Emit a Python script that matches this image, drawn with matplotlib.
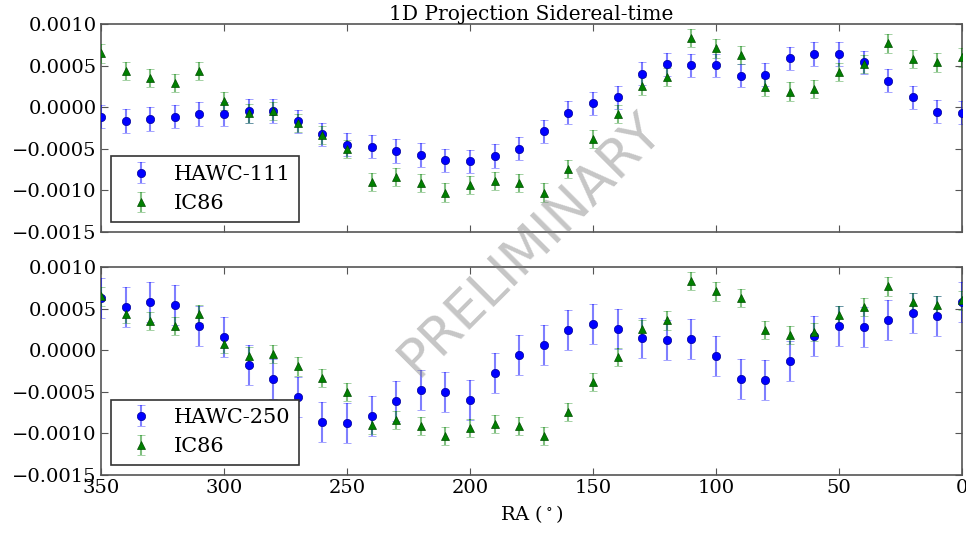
import matplotlib
matplotlib.use("Agg")
import matplotlib.pyplot as plt
import numpy as np

plt.rcParams['font.family'] = ['DejaVu Serif']
plt.rcParams['mathtext.fontset'] = 'dejavuserif'

# RA bins (degrees)
ra = [0, 10, 20, 30, 40, 50, 60, 70, 80, 90, 100, 110, 120, 130, 140, 150, 160, 170,
      180, 190, 200, 210, 220, 230, 240, 250, 260, 270, 280, 290, 300, 310, 320, 330, 340, 350]

hawc111 = [-0.000066, -0.000054, 0.000119, 0.000319, 0.000539, 0.000639, 0.000639, 0.000587,
           0.000391, 0.000379, 0.000503, 0.000503, 0.000515, 0.000403, 0.000119, 0.000047,
           -0.000066, -0.000290, -0.000498, -0.000587, -0.000650, -0.000639, -0.000575,
           -0.000526, -0.000474, -0.000450, -0.000326, -0.000170, -0.000046, -0.000046,
           -0.000082, -0.000082, -0.000114, -0.000142, -0.000166, -0.000114]
hawc111_err = [0.00014] * 36

ic86 = [0.000599, 0.000539, 0.000579, 0.000767, 0.000519, 0.000419, 0.000219, 0.000187,
        0.000247, 0.000627, 0.000707, 0.000835, 0.000359, 0.000259, -0.000082, -0.000386,
        -0.000739, -0.001027, -0.000907, -0.000887, -0.000935, -0.001027, -0.000915,
        -0.000835, -0.000895, -0.000502, -0.000334, -0.000194, -0.000046, -0.000074,
        0.000075, 0.000435, 0.000287, 0.000355, 0.000435, 0.000647]
ic86_err = [0.00011] * 36

hawc250 = [0.000579, 0.000407, 0.000443, 0.000359, 0.000279, 0.000291, 0.000171, -0.000126,
           -0.000362, -0.000350, -0.000066, 0.000135, 0.000119, 0.000147, 0.000255, 0.000319,
           0.000246, 0.000066, -0.000054, -0.000278, -0.000602, -0.000502, -0.000474,
           -0.000610, -0.000787, -0.000871, -0.000859, -0.000562, -0.000350, -0.000178,
           0.000155, 0.000291, 0.000539, 0.000575, 0.000515, 0.000627]
hawc250_err = [0.00024] * 36

yticks = [-0.0015, -0.0010, -0.0005, 0.0000, 0.0005, 0.0010]
ytick_labels = ["\u22120.0015", "\u22120.0010", "\u22120.0005", "0.0000", "0.0005", "0.0010"]
xticks = [350, 300, 250, 200, 150, 100, 50, 0]

fig = plt.figure(figsize=(9.66, 5.36), dpi=100)
ax1 = fig.add_axes([0.1046, 0.5672, 0.8913, 0.3880])
ax2 = fig.add_axes([0.1046, 0.1138, 0.8913, 0.3880], sharex=ax1)

blue = (0, 0, 1)
green = (0, 0.5, 0)

def draw(ax, hv, he, hlabel):
    ax.errorbar(ra, hv, yerr=he, fmt='o', color=blue, ecolor=(0, 0, 1, 0.5),
                markersize=6, capsize=3, elinewidth=1.5, capthick=1.2,
                markeredgecolor=(0, 0, 0.6), markeredgewidth=0.5, label=hlabel, zorder=3)
    ax.errorbar(ra, ic86, yerr=ic86_err, fmt='^', color=green, ecolor=(0, 0.5, 0, 0.5),
                markersize=6, capsize=3, elinewidth=1.5, capthick=1.2,
                markeredgecolor=(0, 0.3, 0), markeredgewidth=0.5, label="IC86", zorder=3)
    ax.set_ylim(-0.0015, 0.0010)
    ax.set_xlim(350, 0)
    ax.set_yticks(yticks)
    ax.set_yticklabels(ytick_labels, fontsize=14)
    ax.set_xticks(xticks)
    ax.tick_params(direction='in', top=True, right=True, length=5, color='#555555', pad=3)
    for s in ax.spines.values():
        s.set_color('#555555')
        s.set_linewidth(1.2)
    leg = ax.legend(loc='lower left', numpoints=1, fancybox=False, framealpha=1,
                    prop={'size': 15}, handletextpad=0.6,
                    borderaxespad=0.5, handlelength=2.0)
    leg.get_frame().set_edgecolor('#333333')
    leg.get_frame().set_linewidth(1.2)

draw(ax1, hawc111, hawc111_err, "HAWC-111")
draw(ax2, hawc250, hawc250_err, "HAWC-250")

plt.setp(ax1.get_xticklabels(), visible=False)
for lab in ax2.get_xticklabels():
    lab.set_fontsize(14)

ax1.set_title("1D Projection Sidereal-time", fontsize=14.5, pad=1)
ax2.set_xlabel("RA ($^\\circ$)", fontsize=14, labelpad=4)

fig.text(0.549, 0.545, "PRELIMINARY", rotation=45, fontsize=38, color='gray', alpha=0.45,
         ha='center', va='center', family='DejaVu Sans', zorder=10)

fig.savefig("out.png", dpi=100, facecolor='white')
